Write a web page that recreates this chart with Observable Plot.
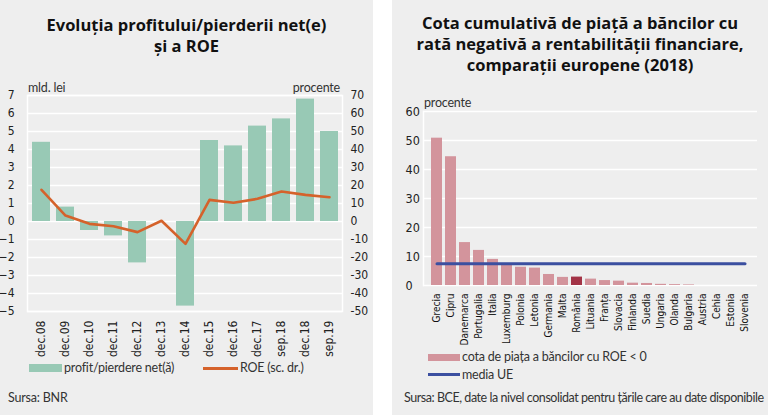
<!DOCTYPE html>
<html><head><meta charset="utf-8">
<script src="https://cdn.jsdelivr.net/npm/d3@7"></script>
<script src="https://cdn.jsdelivr.net/npm/@observablehq/plot@0.6"></script>
<style>
body{margin:0;width:768px;height:415px;background:#fff;position:relative;overflow:hidden;font-family:"Open Sans",sans-serif;}
.panel{position:absolute;top:0;height:415px;background:#eeeeee;}
.title{position:absolute;left:0;right:0;text-align:center;font-weight:700;font-size:16.5px;line-height:21px;color:#111;}
.lbl{position:absolute;font-family:Lato,"Open Sans",sans-serif;font-size:12.5px;letter-spacing:-0.2px;color:#333;white-space:nowrap;line-height:14px;}
.plot{position:absolute;}
.plot svg{overflow:visible;}
.sw{position:absolute;}
</style></head><body>
<div class="panel" id="pl" style="left:0;width:373px;">
  <div class="title" style="top:14px;">Evoluția profitului/pierderii net(e)</div>
  <div class="title" style="top:35px;">și a ROE</div>
  <div class="lbl" style="left:28px;top:81px;">mld. lei</div>
  <div class="lbl" style="right:33px;top:81px;">procente</div>
  <div class="plot" id="leftPlot" style="left:0;top:80px;"></div>
  <div class="sw" style="left:29px;top:364px;width:33px;height:8px;background:#98c9b5;"></div>
  <div class="lbl" style="left:64px;top:361px;">profit/pierdere net(ă)</div>
  <div class="sw" style="left:203px;top:367px;width:35px;height:3px;background:#d5622b;"></div>
  <div class="lbl" style="left:240px;top:361px;">ROE (sc. dr.)</div>
  <div class="lbl" style="left:8px;top:391px;">Sursa: BNR</div>
</div>
<div class="panel" id="pr" style="left:392px;width:376px;">
  <div class="title" style="top:12px;">Cota cumulativă de piață a băncilor cu</div>
  <div class="title" style="top:33px;">rată negativă a rentabilității financiare,</div>
  <div class="title" style="top:54px;">comparații europene (2018)</div>
  <div class="lbl" style="left:32px;top:96px;">procente</div>
  <div class="plot" id="rightPlot" style="left:0;top:95px;"></div>
  <div class="sw" style="left:36px;top:354px;width:32px;height:7px;background:#d3949c;"></div>
  <div class="lbl" style="left:70px;top:350px;">cota de piața a băncilor cu ROE &lt; 0</div>
  <div class="sw" style="left:36px;top:373px;width:32px;height:3px;background:#3b4fa0;"></div>
  <div class="lbl" style="left:70px;top:368px;">media UE</div>
  <div class="lbl" style="left:12px;top:391px;letter-spacing:-0.45px;">Sursa: BCE, date la nivel consolidat pentru țările care au date disponibile</div>
</div>
<script>
// ---- Left chart data
const periods = ["dec.08","dec.09","dec.10","dec.11","dec.12","dec.13","dec.14","dec.15","dec.16","dec.17","sep.18","dec.18","sep.19"];
const profit = [4.4, 0.8, -0.5, -0.8, -2.3, 0.0, -4.7, 4.5, 4.2, 5.3, 5.7, 6.8, 5.0];
const roe = [17.6, 3.3, -1.3, -2.6, -5.9, 0.4, -12.4, 12.0, 10.4, 12.6, 16.7, 14.8, 13.5];
const leftTicks = [-5,-4,-3,-2,-1,0,1,2,3,4,5,6,7];
const rightTickFactor = 10; // right axis: procente = 10 × left axis units

// ---- Right chart data
const countries = ["Grecia","Cipru","Danemarca","Portugalia","Italia","Luxemburg","Polonia","Letonia","Germania","Malta","România","Lituania","Franța","Slovacia","Finlanda","Suedia","Ungaria","Olanda","Bulgaria","Austria","Cehia","Estonia","Slovenia"];
const share = [50.8, 44.4, 14.8, 12.1, 9.0, 7.0, 6.3, 6.0, 3.8, 2.8, 2.9, 2.2, 1.7, 1.5, 0.8, 0.7, 0.4, 0.3, 0.2, 0, 0, 0, 0];
const mediaUE = 7.5;
const rightTicks = [0,10,20,30,40,50,60];

const tickFont = '"Liberation Sans Narrow","DejaVu Sans Condensed","Roboto Condensed",sans-serif';

const leftData = periods.map((p,i)=>({period:p, profit:profit[i], roe:roe[i]}));
const leftPlot = Plot.plot({
  width:373, height:285, marginTop:15, marginBottom:54, marginLeft:27, marginRight:31,
  style:{background:"transparent", fontFamily:tickFont, fontSize:"12px", color:"#222"},
  x:{domain:periods, paddingInner:0.25, paddingOuter:0.14, label:null},
  y:{domain:[-5,7], label:null},
  marks:[
    Plot.ruleY(leftTicks, {stroke:"#fff", strokeWidth:1.5}),
    Plot.frame({stroke:"#fff", strokeWidth:1.5}),
    Plot.barY(leftData, {x:"period", y:"profit", fill:"#98c9b5"}),
    Plot.lineY(leftData, {x:"period", y:d=>d.roe/rightTickFactor, stroke:"#d5622b", strokeWidth:2.6}),
    Plot.axisY(leftTicks, {anchor:"left", tickSize:0, tickPadding:13, label:null}),
    Plot.axisY(leftTicks, {anchor:"right", tickSize:0, tickPadding:8, tickFormat:d=>d*rightTickFactor, label:null}),
    Plot.axisX({tickRotate:-90, tickSize:0, tickPadding:9, label:null})
  ]
});
document.getElementById("leftPlot").appendChild(leftPlot);

const rightData = countries.map((c,i)=>({country:c, share:share[i], mediaUE}));
const rightPlot = Plot.plot({
  width:376, height:252, marginTop:16, marginBottom:62, marginLeft:31, marginRight:11,
  style:{background:"transparent", fontFamily:tickFont, fontSize:"12px", color:"#222"},
  x:{domain:countries, paddingInner:0.24, paddingOuter:0.17, label:null},
  y:{domain:[0,60], label:null},
  marks:[
    Plot.ruleY(rightTicks, {stroke:"#fff", strokeWidth:1.5}),
    Plot.frame({anchor:"left", stroke:"#fff", strokeWidth:1.5}),
    Plot.barY(rightData, {x:"country", y:"share", fill:d=>d.country==="România"?"#a33346":"#d3949c"}),
    Plot.lineY(rightData, {x:"country", y:"mediaUE", stroke:"#3b4fa0", strokeWidth:3}),
    Plot.axisY(rightTicks, {anchor:"left", tickSize:0, tickPadding:18, textAnchor:"start", fontSize:12.5, label:null}),
    Plot.axisX({tickRotate:-90, tickSize:0, tickPadding:8, fontSize:10, fill:"#111", label:null})
  ]
});
document.getElementById("rightPlot").appendChild(rightPlot);
</script>
</body></html>
